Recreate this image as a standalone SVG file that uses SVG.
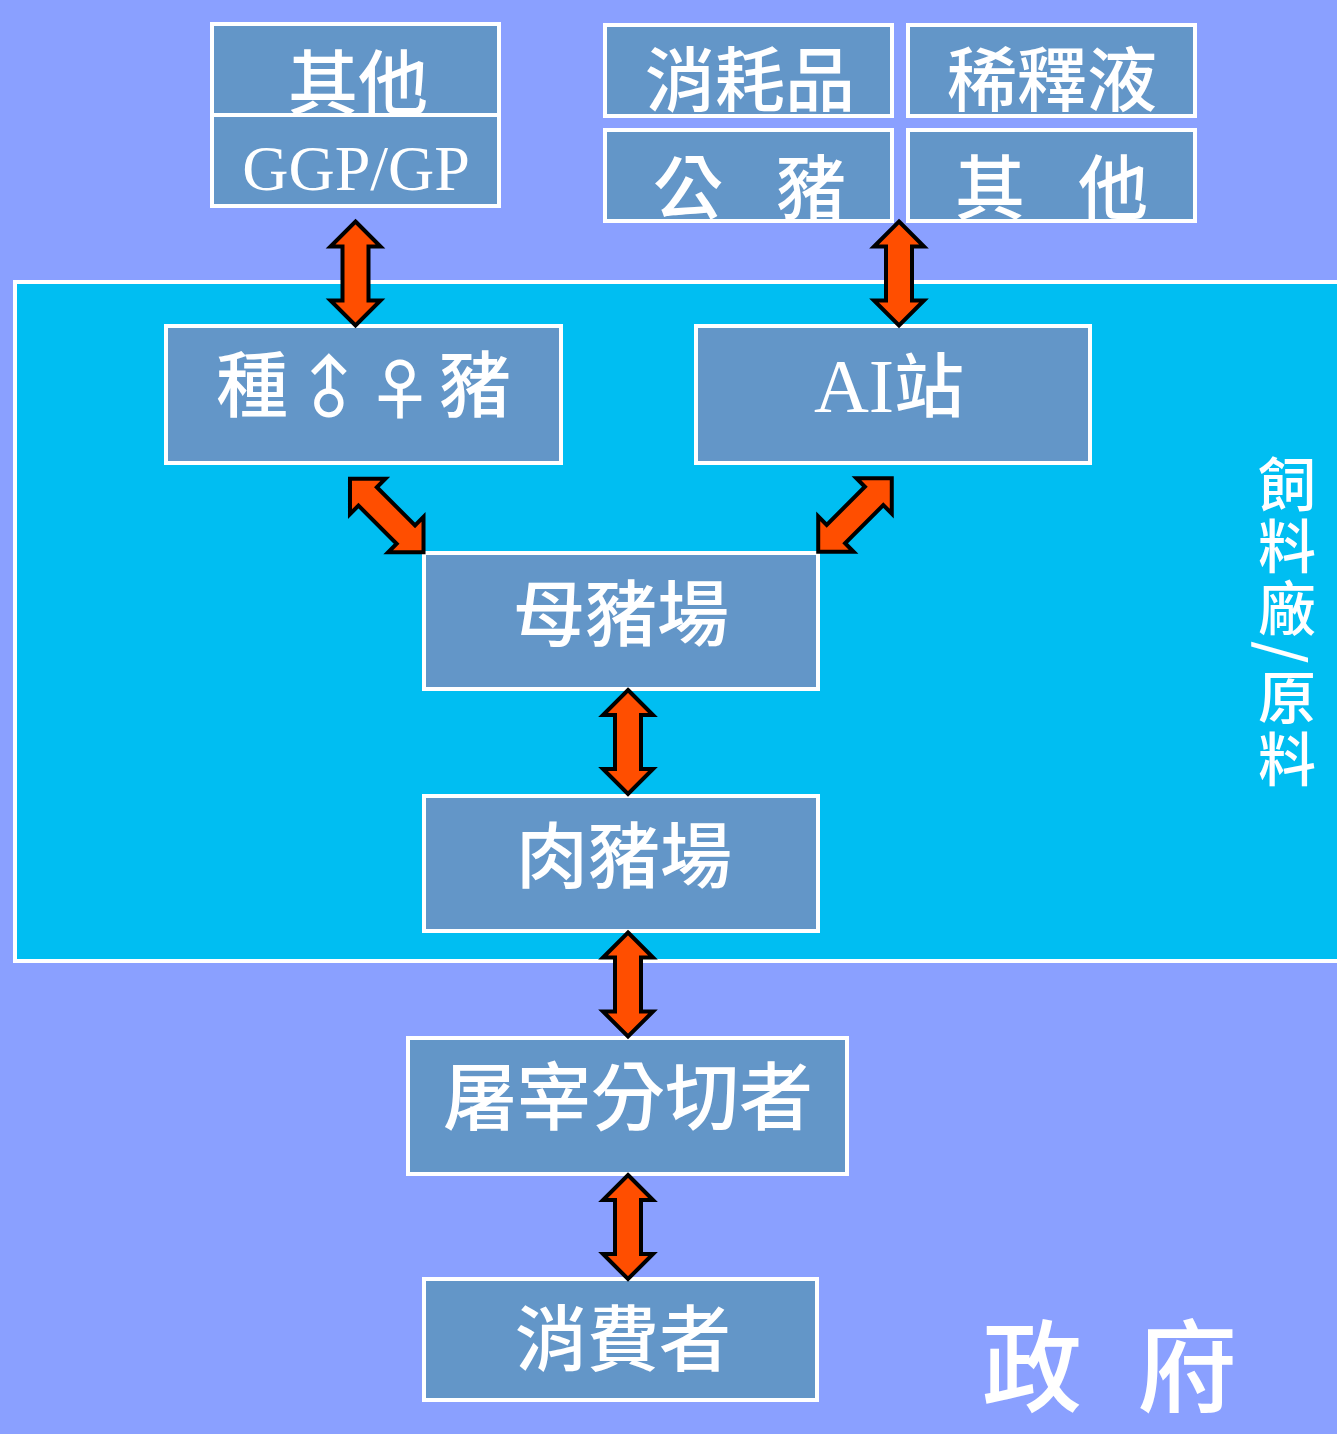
<svg xmlns="http://www.w3.org/2000/svg" width="1337" height="1434" viewBox="0 0 1337 1434">
<style>
.box{fill:#6396C8;stroke:#fff;stroke-width:4}
.t{font-family:"Noto Sans CJK TC","Noto Sans CJK SC",sans-serif;font-weight:500;fill:#fff;text-anchor:middle}
.lat{font-family:"Liberation Serif",serif;font-weight:400;fill:#fff}
.arr{fill:#FF4E00;stroke:#000;stroke-width:4;stroke-linejoin:miter}
</style>
<defs>
<path id="dbl" d="M0,-52 L25,-27 L13,-27 L13,27 L25,27 L0,52 L-25,27 L-13,27 L-13,-27 L-25,-27 Z"/>
</defs>
<rect x="0" y="0" width="1337" height="1434" fill="#8AA0FF"/>
<rect id="feed-zone" x="15" y="282" width="1340" height="679" fill="#00BEF2" stroke="#fff" stroke-width="4"/>

<g id="others-top">
<rect class="box" x="212" y="24" width="287" height="91"/>
<text class="t" x="358" y="109" font-size="70">其他</text>
</g>
<g id="ggp">
<rect class="box" x="212" y="115" width="287" height="91"/>
<text class="lat" x="356" y="190" font-size="64" text-anchor="middle">GGP/GP</text>
</g>
<g id="consumables">
<rect class="box" x="605" y="25" width="287" height="91"/>
<text class="t" x="750" y="106" font-size="70">消耗品</text>
</g>
<g id="diluent">
<rect class="box" x="908" y="25" width="287" height="91"/>
<text class="t" x="1052" y="106" font-size="70">稀釋液</text>
</g>
<g id="boar">
<rect class="box" x="605" y="130" width="287" height="91"/>
<text class="t" y="214" font-size="70"><tspan x="688">公</tspan><tspan x="811">豬</tspan></text>
</g>
<g id="others-right">
<rect class="box" x="908" y="130" width="287" height="91"/>
<text class="t" y="214" font-size="70"><tspan x="990">其</tspan><tspan x="1113">他</tspan></text>
</g>
<g id="breeding">
<rect class="box" x="166" y="326" width="395" height="137"/>
<text class="t" x="252" y="411" font-size="72">種</text>
<text class="t" x="326" y="385" font-size="66" font-weight="400" dominant-baseline="central" transform="rotate(-45 326 385)">♂</text>
<text class="t" x="400" y="385" font-size="66" font-weight="400" dominant-baseline="central">♀</text>
<text class="t" x="475" y="411" font-size="72">豬</text>
</g>
<g id="ai-station">
<rect class="box" x="696" y="326" width="394" height="137"/>
<text class="t" x="889" y="412" font-size="70"><tspan class="lat" font-size="76">AI</tspan>站</text>
</g>
<g id="sow-farm">
<rect class="box" x="424" y="553" width="394" height="136"/>
<text class="t" x="621" y="640" font-size="72">母豬場</text>
</g>
<g id="hog-farm">
<rect class="box" x="424" y="796" width="394" height="135"/>
<text class="t" x="624" y="882" font-size="72">肉豬場</text>
</g>
<g id="slaughter">
<rect class="box" x="408" y="1038" width="439" height="136"/>
<text class="t" x="628" y="1124" font-size="74">屠宰分切者</text>
</g>
<g id="consumer">
<rect class="box" x="424" y="1279" width="393" height="121"/>
<text class="t" x="623" y="1365" font-size="72">消費者</text>
</g>
<g id="government">
<text class="t" y="1404" font-size="100"><tspan x="1032">政</tspan><tspan x="1187">府</tspan></text>
</g>
<g id="feed-label">
<text class="t" x="1287" y="455" font-size="58" writing-mode="vertical-rl" letter-spacing="4" style="text-anchor:start">飼料廠/原料</text>
</g>

<g id="connectors">
<use href="#dbl" class="arr" transform="translate(355.5 273.5)"/>
<use href="#dbl" class="arr" transform="translate(899 273.5)"/>
<use href="#dbl" class="arr" transform="translate(386.75 515.5) rotate(-45)"/>
<use href="#dbl" class="arr" transform="translate(855 515) rotate(45)"/>
<use href="#dbl" class="arr" transform="translate(628 742)"/>
<use href="#dbl" class="arr" transform="translate(628 984.5)"/>
<use href="#dbl" class="arr" transform="translate(628 1227)"/>
</g>
</svg>
